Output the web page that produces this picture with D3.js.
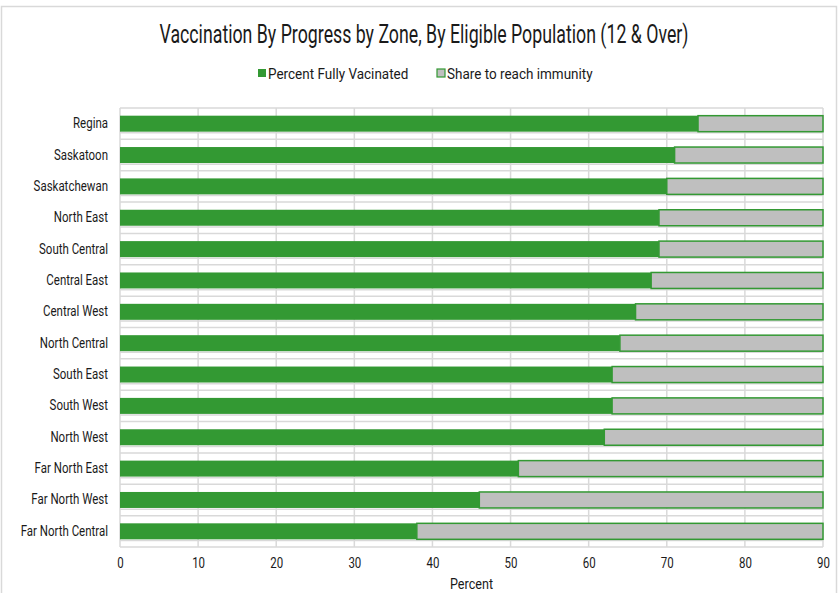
<!DOCTYPE html>
<html>
<head>
<meta charset="utf-8">
<script src="https://cdn.jsdelivr.net/npm/d3@7"></script>
<style>
  body { margin: 0; background: #fff; }
  text { font-family: Roboto, sans-serif; fill: #1a1a1a; }
</style>
</head>
<body>
<script>
var zones = ["Regina","Saskatoon","Saskatchewan","North East","South Central","Central East",
             "Central West","North Central","South East","South West","North West",
             "Far North East","Far North West","Far North Central"];
var fullyVaccinated = [74, 71, 70, 69, 69, 68, 66, 64, 63, 63, 62, 51, 46, 38];
var target = 90;
var shareToImmunity = fullyVaccinated.map(function(d){ return target - d; });
var xTicks = [0,10,20,30,40,50,60,70,80,90];
var seriesNames = ["Percent Fully Vacinated", "Share to reach immunity"];

var width = 839, height = 593;
var margin = {top: 108, right: 16, bottom: 46, left: 120};
var narrow = 0.82; // squeeze text horizontally, the original font is condensed

var svg = d3.select("body").append("svg")
    .attr("width", width)
    .attr("height", height);

// chart border
svg.append("rect")
   .attr("x", 1.5).attr("y", 6.5)
   .attr("width", 835).attr("height", 600)
   .attr("fill", "none")
   .attr("stroke", "#d9d9d9")
   .attr("stroke-width", 1.5);

var xScale = d3.scaleLinear()
    .domain([0, 90])
    .range([margin.left, width - margin.right]);

var yScale = d3.scaleBand()
    .domain(zones)
    .range([margin.top, height - margin.bottom])
    .paddingInner(0.49)
    .paddingOuter(0.245);

var step = yScale.step();
var plotTop = margin.top, plotBottom = height - margin.bottom;

// gridlines
var grid = svg.append("g").attr("stroke", "#d9d9d9").attr("stroke-width", 1.5);
grid.selectAll(".vgrid")
    .data(xTicks)
    .enter()
    .append("line")
    .attr("x1", function(d){ return xScale(d); })
    .attr("x2", function(d){ return xScale(d); })
    .attr("y1", plotTop)
    .attr("y2", plotBottom);

var bounds = d3.range(zones.length + 1).map(function(i){ return plotTop + i * step; });
grid.selectAll(".hgrid")
    .data(bounds)
    .enter()
    .append("line")
    .attr("x1", xScale(0))
    .attr("x2", xScale(90))
    .attr("y1", function(d){ return d; })
    .attr("y2", function(d){ return d; });

// second line just under each bar
grid.selectAll(".hgrid2")
    .data(zones)
    .enter()
    .append("line")
    .attr("x1", xScale(0))
    .attr("x2", xScale(90))
    .attr("y1", function(d){ return yScale(d) + yScale.bandwidth() + 1.2; })
    .attr("y2", function(d){ return yScale(d) + yScale.bandwidth() + 1.2; });

// bars
svg.append("g").selectAll("rect")
    .data(zones)
    .enter()
    .append("rect")
    .attr("x", xScale(0))
    .attr("y", function(d){ return yScale(d); })
    .attr("width", function(d,i){ return xScale(fullyVaccinated[i]) - xScale(0); })
    .attr("height", yScale.bandwidth())
    .attr("fill", "#339933");

svg.append("g").selectAll("rect")
    .data(zones)
    .enter()
    .append("rect")
    .attr("x", function(d,i){ return xScale(fullyVaccinated[i]); })
    .attr("y", function(d){ return yScale(d); })
    .attr("width", function(d,i){ return xScale(fullyVaccinated[i] + shareToImmunity[i]) - xScale(fullyVaccinated[i]); })
    .attr("height", yScale.bandwidth())
    .attr("fill", "#bfbfbf")
    .attr("stroke", "#339933")
    .attr("stroke-width", 1.5);

// axes
var xAxis = svg.append("g")
    .attr("transform", "translate(0," + plotBottom + ")")
    .call(d3.axisBottom(xScale).tickValues(xTicks).tickSize(0).tickPadding(11));
xAxis.select(".domain").remove();
xAxis.selectAll("text")
     .style("font-size", "14px")
     .attr("fill", "#1a1a1a")
     .attr("transform", "scale(" + narrow + ",1)");

var yAxis = svg.append("g")
    .attr("transform", "translate(" + (margin.left - 12) + ",0)")
    .call(d3.axisLeft(yScale).tickSize(0).tickPadding(0));
yAxis.select(".domain").remove();
yAxis.selectAll("text")
     .style("font-size", "14px")
     .attr("fill", "#1a1a1a")
     .attr("x", 0)
     .attr("transform", "scale(" + narrow + ",1)");

svg.append("text")
   .attr("transform", "translate(" + xScale(45) + ",589) scale(0.84,1)")
   .attr("text-anchor", "middle")
   .style("font-size", "15px")
   .text("Percent");

// title
svg.append("text")
   .attr("transform", "translate(424,43) scale(0.71,1)")
   .attr("text-anchor", "middle")
   .style("font-size", "25px")
   .text("Vaccination By Progress by Zone, By Eligible Population  (12 & Over)");

// legend
var legendX = [258, 437];
var legend = svg.append("g");
legend.selectAll("rect")
      .data(seriesNames)
      .enter()
      .append("rect")
      .attr("x", function(d,i){ return legendX[i]; })
      .attr("y", 69)
      .attr("width", 8)
      .attr("height", 8)
      .attr("fill", function(d,i){ return i == 0 ? "#339933" : "#bfbfbf"; })
      .attr("stroke", "#339933")
      .attr("stroke-width", function(d,i){ return i == 0 ? 0 : 1.2; });
legend.selectAll("text")
      .data(seriesNames)
      .enter()
      .append("text")
      .attr("transform", function(d,i){ return "translate(" + (legendX[i] + 10) + ",79) scale(0.9,1)"; })
      .style("font-size", "15px")
      .text(function(d){ return d; });
</script>
</body>
</html>
